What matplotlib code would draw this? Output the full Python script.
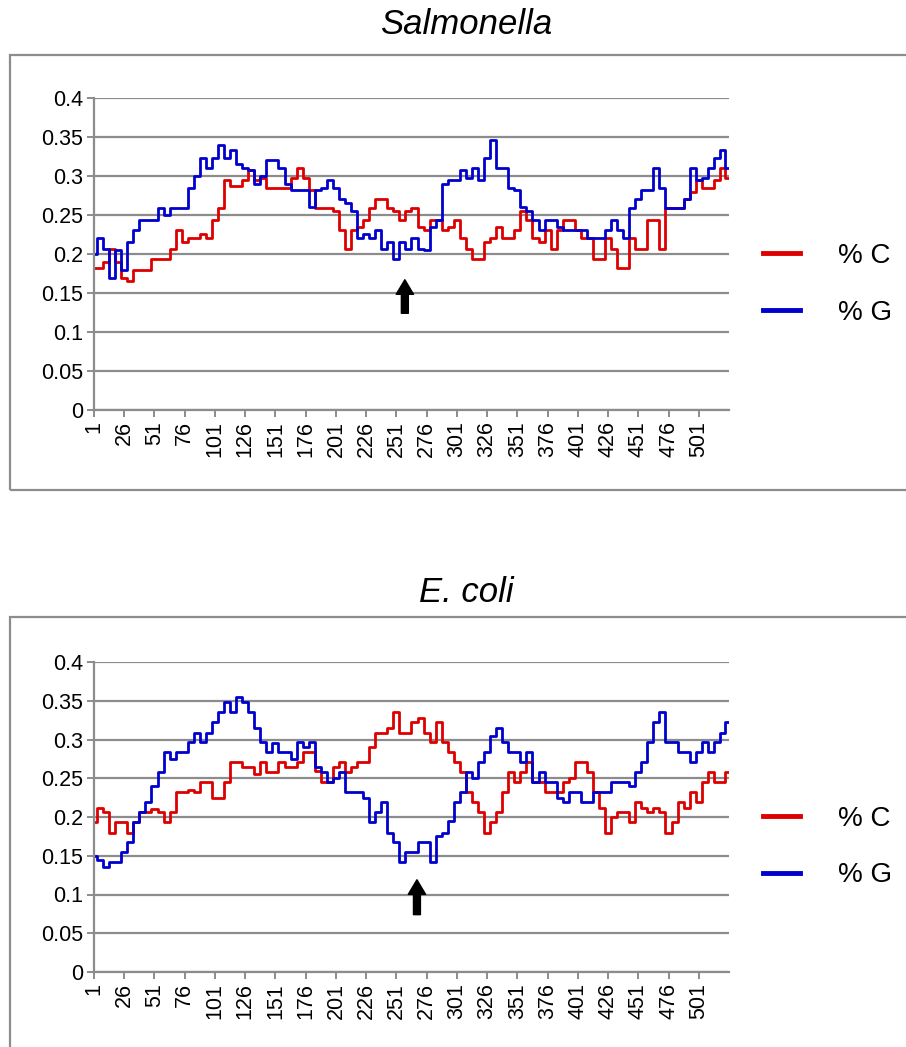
import numpy as np
import matplotlib
matplotlib.use("Agg")
import matplotlib.pyplot as plt
from matplotlib.patches import Rectangle

plt.rcParams['font.family'] = ['Liberation Sans', 'DejaVu Sans']

# sample positions along the sequence (every 5th window + last one)
pos = list(range(1, 522, 5)) + [525]

tick_pos = list(range(1, 502, 25))
y_ticks = [0, 0.05, 0.1, 0.15, 0.2, 0.25, 0.3, 0.35, 0.4]
y_labels = ['0', '0.05', '0.1', '0.15', '0.2', '0.25', '0.3', '0.35', '0.4']

# Salmonella
sal_c = [0.182, 0.182, 0.19, 0.207, 0.19, 0.169, 0.165, 0.18, 0.18, 0.18, 0.194, 0.194,
         0.194, 0.207, 0.231, 0.215, 0.22, 0.22, 0.225, 0.22, 0.244, 0.259, 0.295, 0.287,
         0.287, 0.295, 0.308, 0.295, 0.297, 0.284, 0.284, 0.284, 0.284, 0.297, 0.31,
         0.297, 0.282, 0.259, 0.259, 0.259, 0.255, 0.231, 0.207, 0.231, 0.235, 0.244, 0.259,
         0.271, 0.271, 0.259, 0.255, 0.244, 0.255, 0.259, 0.235, 0.231, 0.244, 0.244, 0.231,
         0.235, 0.244, 0.22, 0.207, 0.194, 0.194, 0.215, 0.22, 0.235, 0.22, 0.22,
         0.231, 0.255, 0.244, 0.22, 0.215, 0.231, 0.207, 0.231, 0.244, 0.244, 0.231, 0.22,
         0.22, 0.194, 0.194, 0.22, 0.207, 0.182, 0.182, 0.22, 0.207, 0.207, 0.244, 0.244,
         0.207, 0.259, 0.259, 0.259, 0.271, 0.28, 0.295, 0.284, 0.284, 0.295, 0.31, 0.297]
sal_g = [0.20, 0.22, 0.207, 0.169, 0.205, 0.18, 0.215, 0.231, 0.244, 0.244, 0.244, 0.259,
         0.25, 0.259, 0.259, 0.259, 0.284, 0.30, 0.323, 0.31, 0.323, 0.34, 0.323, 0.333,
         0.315, 0.31, 0.308, 0.29, 0.30, 0.32, 0.32, 0.31, 0.29, 0.282, 0.282,
         0.282, 0.26, 0.282, 0.284, 0.295, 0.284, 0.271, 0.265, 0.255, 0.22, 0.225, 0.22,
         0.231, 0.207, 0.215, 0.194, 0.215, 0.207, 0.22, 0.207, 0.205, 0.235, 0.244, 0.29,
         0.295, 0.295, 0.308, 0.297, 0.31, 0.295, 0.323, 0.346, 0.31, 0.31, 0.284,
         0.282, 0.26, 0.255, 0.244, 0.231, 0.244, 0.244, 0.235, 0.231, 0.231, 0.231, 0.231,
         0.22, 0.22, 0.22, 0.231, 0.244, 0.231, 0.22, 0.259, 0.271, 0.282, 0.282, 0.31,
         0.284, 0.259, 0.259, 0.259, 0.271, 0.31, 0.295, 0.297, 0.31, 0.323, 0.333, 0.31]

# E. coli
eco_c = [0.193, 0.212, 0.206, 0.18, 0.193, 0.193, 0.18, 0.193, 0.206, 0.206, 0.21, 0.206,
         0.193, 0.206, 0.232, 0.232, 0.235, 0.232, 0.245, 0.245, 0.225, 0.225, 0.245, 0.271,
         0.271, 0.265, 0.265, 0.255, 0.271, 0.258, 0.258, 0.271, 0.265, 0.265, 0.271,
         0.284, 0.284, 0.26, 0.245, 0.245, 0.265, 0.271, 0.258, 0.265, 0.271, 0.271, 0.29,
         0.309, 0.309, 0.315, 0.335, 0.309, 0.309, 0.322, 0.328, 0.309, 0.297, 0.322, 0.297,
         0.284, 0.271, 0.258, 0.232, 0.219, 0.206, 0.18, 0.193, 0.206, 0.232, 0.258,
         0.245, 0.258, 0.271, 0.245, 0.245, 0.232, 0.232, 0.232, 0.245, 0.25, 0.271, 0.271,
         0.258, 0.232, 0.212, 0.18, 0.2, 0.206, 0.206, 0.193, 0.219, 0.212, 0.206, 0.212,
         0.206, 0.18, 0.193, 0.219, 0.212, 0.232, 0.219, 0.245, 0.258, 0.245, 0.245, 0.258]
eco_g = [0.15, 0.145, 0.135, 0.142, 0.142, 0.155, 0.168, 0.193, 0.206, 0.219, 0.24, 0.258,
         0.284, 0.275, 0.284, 0.284, 0.297, 0.309, 0.297, 0.309, 0.322, 0.335, 0.348, 0.335,
         0.355, 0.348, 0.335, 0.315, 0.297, 0.284, 0.295, 0.284, 0.284, 0.275, 0.297,
         0.29, 0.297, 0.264, 0.258, 0.245, 0.25, 0.258, 0.232, 0.232, 0.232, 0.225, 0.193,
         0.206, 0.219, 0.18, 0.168, 0.142, 0.155, 0.155, 0.168, 0.168, 0.142, 0.175, 0.18,
         0.195, 0.219, 0.232, 0.258, 0.25, 0.271, 0.284, 0.305, 0.315, 0.297, 0.284,
         0.284, 0.271, 0.284, 0.245, 0.258, 0.245, 0.245, 0.225, 0.219, 0.232, 0.232, 0.219,
         0.219, 0.232, 0.232, 0.232, 0.245, 0.245, 0.245, 0.24, 0.258, 0.271, 0.297, 0.322,
         0.335, 0.297, 0.297, 0.284, 0.284, 0.271, 0.284, 0.297, 0.284, 0.297, 0.309, 0.322]

RED = '#dd0000'
BLUE = '#0000cc'
GREY = '#8c8c8c'

fig = plt.figure(figsize=(9.06, 10.47), dpi=100)


def panel(rect, title, c_vals, g_vals, arrow_x, arrow_y0, arrow_y1, box, title_y):
    ax = fig.add_axes(rect)
    ax.plot(pos, c_vals, color=RED, lw=2.0, drawstyle='steps-mid', label='% C')
    ax.plot(pos, g_vals, color=BLUE, lw=2.0, drawstyle='steps-mid', label='% G')
    ax.set_xlim(1, 526)
    ax.set_ylim(0, 0.4)
    ax.set_yticks(y_ticks)
    ax.set_yticklabels(y_labels)
    ax.set_xticks(tick_pos)
    ax.set_xticklabels([str(t) for t in tick_pos], rotation=90)
    ax.yaxis.grid(True, color=GREY, lw=1.6)
    ax.set_axisbelow(True)
    for s in ['top', 'right']:
        ax.spines[s].set_visible(False)
    for s in ['left', 'bottom']:
        ax.spines[s].set_color(GREY)
        ax.spines[s].set_linewidth(1.6)
    ax.tick_params(axis='both', colors=GREY, labelcolor='black', labelsize=15.5,
                   length=5, width=1.4)
    ax.tick_params(axis='x', pad=3)
    ax.tick_params(axis='y', pad=3)
    ax.annotate('', xy=(arrow_x, arrow_y1), xytext=(arrow_x, arrow_y0),
                arrowprops=dict(arrowstyle='simple,head_length=0.42,head_width=0.5,tail_width=0.2',
                                mutation_scale=25, color='black', shrinkA=0, shrinkB=0),
                annotation_clip=False)
    ax.legend(loc='center left', bbox_to_anchor=(1.054, 0.403), frameon=False,
              fontsize=20, handlelength=1.33, handletextpad=1.37, labelspacing=1.1,
              borderaxespad=0, borderpad=0)
    for line in ax.get_legend().get_lines():
        line.set_linewidth(3.5)
    fig.text(0.515, title_y, title, ha='center', va='center', fontsize=25, style='italic')
    fig.patches.append(Rectangle(box[:2], box[2], box[3], transform=fig.transFigure,
                                 fill=False, edgecolor=GREY, lw=1.6))
    return ax


panel([94 / 906, (1047 - 410) / 1047, 635 / 906, 312 / 1047], 'Salmonella',
      sal_c, sal_g, 258, 0.124, 0.167,
      (10 / 906, (1047 - 490) / 1047, 1.2, 435 / 1047), 1 - 25 / 1047)
panel([94 / 906, (1047 - 972) / 1047, 635 / 906, 310 / 1047], 'E. coli',
      eco_c, eco_g, 268, 0.074, 0.119,
      (10 / 906, -0.2, 1.2, (1047 - 617) / 1047 + 0.2), 1 - 592 / 1047)

fig.savefig('out.png', dpi=100)
